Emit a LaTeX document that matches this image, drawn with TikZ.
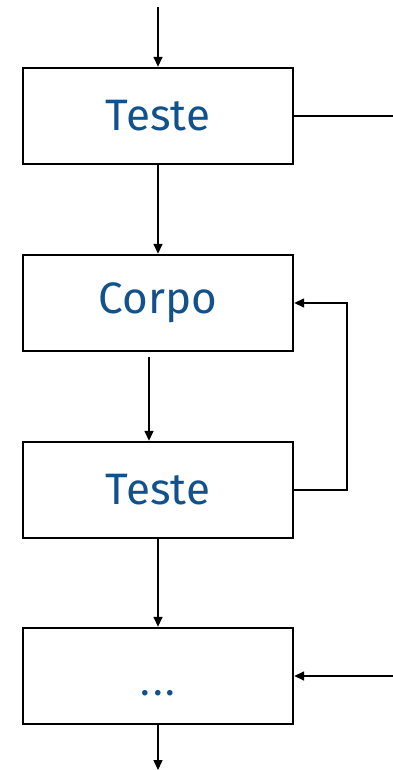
\documentclass[tikz,border=0pt]{standalone}
\usepackage{fontspec}
\setmainfont{Fira Sans}
\usetikzlibrary{arrows.meta,calc}
\definecolor{txtblue}{RGB}{18,82,140}
\tikzset{
  boxnode/.style={draw=black, line width=2.4pt, minimum width=270pt, minimum height=96pt, inner sep=0pt, font=\fontsize{44}{44}\selectfont, text=txtblue},
  arr/.style={line width=1.5pt, -{Triangle[length=10pt,width=9pt]}},
  ln/.style={line width=1.5pt}
}
\begin{document}
\begin{tikzpicture}[x=1pt,y=-1pt]
\useasboundingbox (0,0) rectangle (393,770);
\node[boxnode] (b1) at (158,116) {Teste};
\node[boxnode] (b2) at (158,303) {Corpo};
\node[boxnode] (b3) at (158,490) {Teste};
\node[boxnode] (b4) at (158,676) {};
\node[text=txtblue, font=\fontsize{40}{40}\selectfont, inner sep=0pt] (dots) at (158,693) {.\kern3pt.\kern3pt.};
\coordinate (in1) at (158,7);
\coordinate (out1) at (393,116);
\coordinate (c1) at (149,357);
\coordinate (lp1) at (347,490);
\coordinate (lp2) at (347,303);
\coordinate (in4) at (393,676);
\coordinate (out4) at (158,770);
\draw[arr] (in1) -- (b1.north);
\draw[ln] (b1.east) -- (out1);
\draw[arr] (b1.south) -- (b2.north);
\draw[arr] (c1) -- (c1 |- b3.north);
\draw[arr] (b3.east) -- (lp1) -- (lp2) -- (b2.east);
\draw[arr] (b3.south) -- (b4.north);
\draw[arr] (in4) -- (b4.east);
\draw[arr] (b4.south) -- (out4);
\end{tikzpicture}
\end{document}
